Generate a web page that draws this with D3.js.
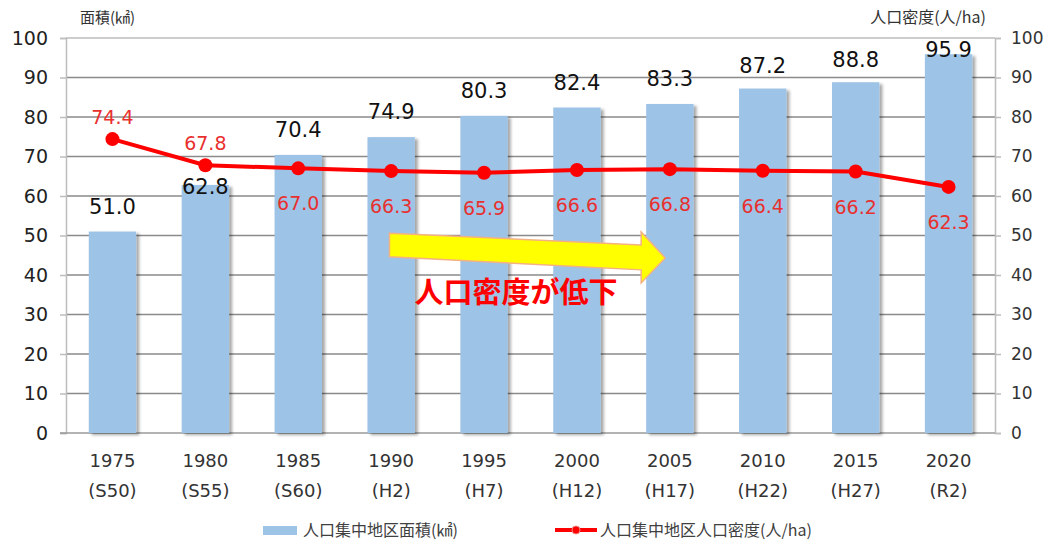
<!DOCTYPE html>
<html>
<head>
<meta charset="utf-8">
<script src="https://cdn.jsdelivr.net/npm/d3@7"></script>
<style>
  body { margin: 0; background: #fff; }
  text { font-family: "DejaVu Sans", "Noto Sans CJK JP", sans-serif; }
  .jp { font-family: "Noto Sans CJK JP", sans-serif; }
</style>
</head>
<body>
<div class="chart"></div>
<script>
// data
const years = ['1975', '1980', '1985', '1990', '1995', '2000', '2005', '2010', '2015', '2020']
const eras = ['(S50)', '(S55)', '(S60)', '(H2)', '(H7)', '(H12)', '(H17)', '(H22)', '(H27)', '(R2)']
const area = [51.0, 62.8, 70.4, 74.9, 80.3, 82.4, 83.3, 87.2, 88.8, 95.9]
const density = [74.4, 67.8, 67.0, 66.3, 65.9, 66.6, 66.8, 66.4, 66.2, 62.3]
const yTicks = [0, 10, 20, 30, 40, 50, 60, 70, 80, 90, 100]

// label placement (px above/below the mark)
const areaLabelGap = [18, -9, 18, 18, 18, 18, 18, 16, 15, -3]
const densityLabelSide = [-1, -1, 1, 1, 1, 1, 1, 1, 1, 1]

const width = 1053
const height = 545
const margin = { left: 66, right: 58, top: 38, bottom: 112 }
const innerW = width - margin.left - margin.right
const innerH = height - margin.top - margin.bottom

const svg = d3.select('.chart')
  .append('svg')
  .attr('width', width)
  .attr('height', height)

const defs = svg.append('defs')
const shadow = defs.append('filter').attr('id', 'shadow')
  .attr('x', '-20%').attr('y', '-5%').attr('width', '150%').attr('height', '115%')
shadow.append('feDropShadow')
  .attr('dx', 3).attr('dy', 2).attr('stdDeviation', 1.8)
  .attr('flood-color', '#000').attr('flood-opacity', 0.35)

const g = svg.append('g')
  .attr('transform', 'translate(' + margin.left + ',' + margin.top + ')')

const x = d3.scaleBand().domain(years).range([0, innerW]).paddingInner(0.49).paddingOuter(0.245)
const y = d3.scaleLinear().domain([0, 100]).range([innerH, 0])
const y2 = d3.scaleLinear().domain([0, 100]).range([innerH, 0])

// gridlines
g.selectAll('.grid')
  .data(yTicks.filter(d => d > 0))
  .enter()
  .append('line')
  .attr('x1', 0)
  .attr('x2', innerW)
  .attr('y1', d => y(d))
  .attr('y2', d => y(d))
  .attr('stroke', d => d === 100 ? '#bdbdbd' : '#8a8a8a')
  .attr('stroke-width', 1.5)

// left axis
const yAxis = d3.axisLeft(y).tickValues(yTicks).tickSize(6).tickPadding(12)
const gy = g.append('g').call(yAxis)
gy.select('.domain').attr('stroke', '#bdbdbd').attr('stroke-width', 1.5)
gy.selectAll('.tick line').attr('stroke', '#bdbdbd').attr('stroke-width', 1.5)
gy.selectAll('.tick text').attr('font-size', 19).attr('fill', '#222')

// right axis
const yAxisR = d3.axisRight(y2).tickValues(yTicks).tickSize(6).tickPadding(10)
const gr = g.append('g').attr('transform', 'translate(' + innerW + ',0)').call(yAxisR)
gr.select('.domain').attr('stroke', '#bdbdbd').attr('stroke-width', 1.5)
gr.selectAll('.tick line').attr('stroke', '#bdbdbd').attr('stroke-width', 1.5)
gr.selectAll('.tick text').attr('font-size', 17).attr('fill', '#333')

// bottom axis line
g.append('line')
  .attr('x1', -6).attr('x2', innerW)
  .attr('y1', innerH).attr('y2', innerH)
  .attr('stroke', '#9a9a9a').attr('stroke-width', 1.5)

// bars
g.selectAll('.bar')
  .data(area)
  .enter()
  .append('rect')
  .attr('x', (d, i) => x(years[i]))
  .attr('y', d => y(d))
  .attr('width', x.bandwidth())
  .attr('height', d => innerH - y(d))
  .attr('fill', '#9dc3e6')
  .attr('filter', 'url(#shadow)')

// x labels
const xl = g.selectAll('.xl')
  .data(years)
  .enter()
  .append('text')
  .attr('text-anchor', 'middle')
  .attr('font-size', 18)
  .attr('fill', '#333')
xl.append('tspan').attr('x', d => x(d) + x.bandwidth() / 2).attr('y', innerH + 34).text(d => d)
xl.append('tspan').attr('x', d => x(d) + x.bandwidth() / 2).attr('y', innerH + 64).text((d, i) => eras[i])

// density line
const line = d3.line()
  .x((d, i) => x(years[i]) + x.bandwidth() / 2)
  .y(d => y2(d))

g.append('path')
  .datum(density)
  .attr('d', line)
  .attr('fill', 'none')
  .attr('stroke', '#ff0000')
  .attr('stroke-width', 4)

g.selectAll('.dot')
  .data(density)
  .enter()
  .append('circle')
  .attr('cx', (d, i) => x(years[i]) + x.bandwidth() / 2)
  .attr('cy', d => y2(d))
  .attr('r', 7)
  .attr('fill', '#ff0000')

// arrow
const ax0 = x(years[3]) + 22, ax1 = x(years[6]) + 19
const arrowPts = [
  [ax0, y(50.6)], [ax1 - 24, y(47.6)], [ax1 - 24, y(50.9)], [ax1, y(44.3)],
  [ax1 - 24, y(38.0)], [ax1 - 24, y(41.3)], [ax0, y(44.6)]
]
g.append('path')
  .attr('d', d3.line()(arrowPts) + 'Z')
  .attr('fill', '#ffff00')
  .attr('stroke', '#f4b183')
  .attr('stroke-width', 1.5)

g.append('text')
  .attr('class', 'jp')
  .attr('x', x(years[3]) + 47)
  .attr('y', y(32.9))
  .attr('font-size', 29)
  .attr('font-weight', 'bold')
  .attr('fill', '#ff0000')
  .text('人口密度が低下')

// value labels
g.selectAll('.al')
  .data(area)
  .enter()
  .append('text')
  .attr('x', (d, i) => x(years[i]) + x.bandwidth() / 2)
  .attr('y', (d, i) => y(d) - areaLabelGap[i])
  .attr('text-anchor', 'middle')
  .attr('font-size', 21)
  .attr('fill', '#111')
  .text(d => d.toFixed(1))

g.selectAll('.dl')
  .data(density)
  .enter()
  .append('text')
  .attr('x', (d, i) => x(years[i]) + x.bandwidth() / 2)
  .attr('y', (d, i) => densityLabelSide[i] < 0 ? y2(d) - 15 : y2(d) + 42)
  .attr('text-anchor', 'middle')
  .attr('font-size', 19)
  .attr('fill', '#e8302f')
  .text(d => d.toFixed(1))

// axis titles
svg.append('text')
  .attr('class', 'jp')
  .attr('x', 80).attr('y', 23)
  .attr('font-size', 15)
  .attr('fill', '#333')
  .text('面積(㎢)')

svg.append('text')
  .attr('class', 'jp')
  .attr('x', 986).attr('y', 23)
  .attr('text-anchor', 'end')
  .attr('font-size', 16)
  .attr('fill', '#333')
  .text('人口密度(人/ha)')

// legend
const legend = svg.append('g').attr('transform', 'translate(0,' + (height - 15) + ')')
legend.append('rect')
  .attr('x', 263).attr('y', -4).attr('width', 34).attr('height', 9)
  .attr('fill', '#9dc3e6')
legend.append('text')
  .attr('class', 'jp')
  .attr('x', 303).attr('y', 6)
  .attr('font-size', 16)
  .attr('fill', '#404040')
  .text('人口集中地区面積(㎢)')

legend.append('line')
  .attr('x1', 555).attr('x2', 597).attr('y1', 0).attr('y2', 0)
  .attr('stroke', '#ff0000').attr('stroke-width', 4)
legend.append('circle')
  .attr('cx', 576).attr('cy', 0).attr('r', 4).attr('fill', '#ff0000')
  .attr('stroke', '#f08080').attr('stroke-width', 1)
legend.append('text')
  .attr('class', 'jp')
  .attr('x', 600).attr('y', 6)
  .attr('font-size', 16)
  .attr('fill', '#404040')
  .text('人口集中地区人口密度(人/ha)')
</script>
</body>
</html>
